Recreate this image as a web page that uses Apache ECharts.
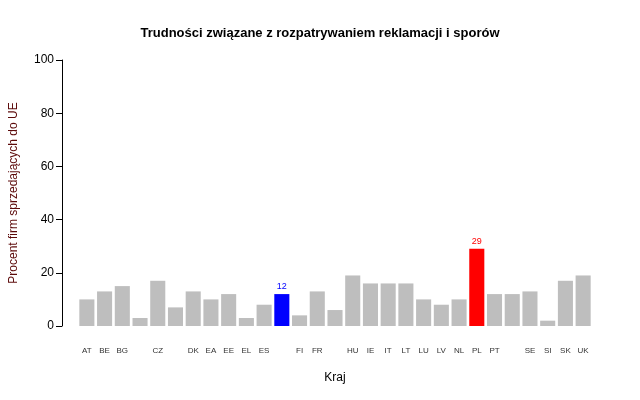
<!DOCTYPE html>
<html lang="pl">
<head>
    <meta charset="UTF-8">
    <title>Echarts</title>
    <script src="https://cdn.jsdelivr.net/npm/echarts@6/dist/echarts.min.js"></script>
</head>
<body style="margin:0">
    <div id="main" style="width: 640px;height:400px;"></div>
    <script type="text/javascript">
        // kraje i wartości (%)
        var countries = ['AT','BE','BG','CY','CZ','DE','DK','EA','EE','EL','ES','EU','FI','FR','HR','HU','IE','IT','LT','LU','LV','NL','PL','PT','RO','SE','SI','SK','UK'];
        var values = [10,13,15,3,17,7,13,10,12,3,8,12,4,13,6,19,16,16,16,10,8,10,29,12,12,13,2,17,19];
        var hiddenLabels = ['CY','DE','EU','HR','RO'];
        var highlight = { EU: '#0000ff', PL: '#ff0000' };
        var yTicks = [0, 20, 40, 60, 80, 100];

        var myChart = echarts.init(document.getElementById('main'));

        var data = countries.map(function (c, i) {
            var item = { value: values[i], itemStyle: { color: highlight[c] || '#bebebe' } };
            if (highlight[c]) {
                item.label = { show: true, position: 'top', color: highlight[c], fontSize: 9, distance: 3 };
            }
            return item;
        });

        var option = {
            animation: false,
            title: {
                text: 'Trudności związane z rozpatrywaniem reklamacji i sporów',
                left: 'center', top: 22,
                textStyle: { fontSize: 13, fontWeight: 'bold', color: '#000', fontFamily: 'Liberation Sans' }
            },
            grid: { left: 76, right: 48, top: 60, bottom: 74 },
            xAxis: {
                type: 'category',
                data: countries,
                name: 'Kraj', nameLocation: 'middle', nameGap: 46,
                nameTextStyle: { fontSize: 12, color: '#000', fontFamily: 'Liberation Sans' },
                axisLine: { show: false }, axisTick: { show: false },
                axisLabel: {
                    interval: 0, margin: 21, fontSize: 8, color: '#333',
                    formatter: function (v) { return hiddenLabels.indexOf(v) >= 0 ? '' : v; }
                }
            },
            yAxis: {
                type: 'value', min: yTicks[0], max: yTicks[yTicks.length - 1], interval: 20,
                offset: 16,
                name: 'Procent firm sprzedających do UE', nameLocation: 'middle', nameGap: 42,
                nameTextStyle: { fontSize: 12, color: '#5c0a0a', fontFamily: 'Liberation Sans' },
                axisLine: { show: true, lineStyle: { color: '#000' } },
                axisTick: { show: true, length: 6, lineStyle: { color: '#000' } },
                axisLabel: { fontSize: 12, color: '#000', margin: 8, fontFamily: 'Liberation Sans' },
                splitLine: { show: false }
            },
            series: [{
                type: 'bar',
                data: data,
                barCategoryGap: '15%'
            }]
        };
        myChart.setOption(option);
    </script>
</body>
</html>
